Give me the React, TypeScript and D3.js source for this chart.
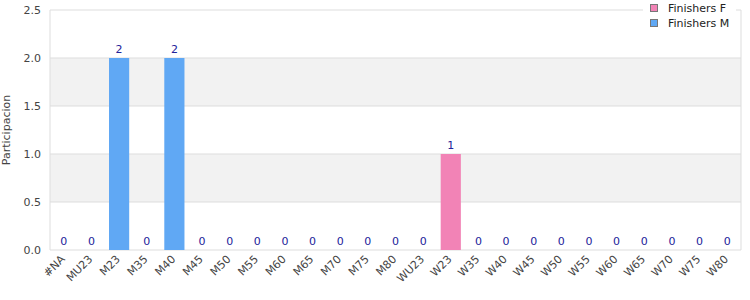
import React from "react";
import * as d3 from "d3";

const categories = ["#NA","MU23","M23","M35","M40","M45","M50","M55","M60","M65","M70","M75","M80","WU23","W23","W35","W40","W45","W50","W55","W60","W65","W70","W75","W80"];
const finishersF = [0,0,0,0,0,0,0,0,0,0,0,0,0,0,1,0,0,0,0,0,0,0,0,0,0];
const finishersM = [0,0,2,0,2,0,0,0,0,0,0,0,0,0,0,0,0,0,0,0,0,0,0,0,0];
const yTicks = [0,0.5,1,1.5,2,2.5];
const seriesNames = ["Finishers F","Finishers M"];
const seriesColors = ["#f283b6","#60a8f4"];

export default function App() {
  const W = 750, H = 300;
  const m = { l: 50, r: 9, t: 10, b: 50 };
  const x = d3.scaleBand().domain(categories).range([m.l, W - m.r]).paddingInner(0.27).paddingOuter(0.135);
  const xc = d3.scaleBand().domain(categories).range([m.l, W - m.r]);
  const y = d3.scaleLinear().domain([0, 2.5]).range([H - m.b, m.t]);
  const font = "DejaVu Sans, sans-serif";
  const bands = [[0.5,1],[1.5,2]];
  return (
    <svg width={W} height={H} style={{ position: "absolute", left: 0, top: 0 }} fontFamily={font}>
      <rect x={0} y={0} width={W} height={H} fill="#fff" />
      {bands.map(([a,b],i)=>(
        <rect key={i} x={m.l} y={y(b)} width={W-m.r-m.l} height={y(a)-y(b)} fill="#f2f2f2" />
      ))}
      {yTicks.map(t=>(
        <g key={t}>
          <line x1={m.l} x2={W-m.r} y1={y(t)} y2={y(t)} stroke="#dddddd" />
          <text x={m.l-9} y={y(t)} dy="0.35em" textAnchor="end" fontSize={11} fill="#444">{t.toFixed(1)}</text>
        </g>
      ))}
      <line x1={m.l} x2={m.l} y1={m.t} y2={H-m.b} stroke="#dddddd" />
      <line x1={W-m.r} x2={W-m.r} y1={m.t} y2={H-m.b} stroke="#dddddd" />
      {categories.map((c,i)=>{
        const f = finishersF[i], mm = finishersM[i];
        const total = f + mm;
        return (
          <g key={c}>
            {mm > 0 && <rect x={x(c)} y={y(mm)} width={x.bandwidth()} height={y(0)-y(mm)} fill={seriesColors[1]} />}
            {f > 0 && <rect x={x(c)} y={y(mm+f)} width={x.bandwidth()} height={y(mm)-y(mm+f)} fill={seriesColors[0]} />}
            <text x={xc(c)!+xc.bandwidth()/2} y={y(total)-5} textAnchor="middle" fontSize={11} fill="#22229a">{total}</text>
            <text transform={`translate(${xc(c)!+xc.bandwidth()/2-1},${H-m.b+7}) rotate(-45)`} textAnchor="end" dy="0.35em" fontSize={11} fill="#444">{c}</text>
          </g>
        );
      })}
      <text transform={`translate(6,${(m.t+H-m.b)/2}) rotate(-90)`} textAnchor="middle" dy="0.35em" fontSize={11} fill="#444">Participacion</text>
      <rect x={643} y={0} width={93} height={33} fill="#fff" />
      {seriesNames.map((s,i)=>(
        <g key={s}>
          <rect x={650.5} y={4.5+i*15} width={7} height={7} fill={seriesColors[i]} stroke="#777" />
          <text x={668} y={8+i*15} dy="0.35em" fontSize={11} fill="#222">{s}</text>
        </g>
      ))}
    </svg>
  );
}
